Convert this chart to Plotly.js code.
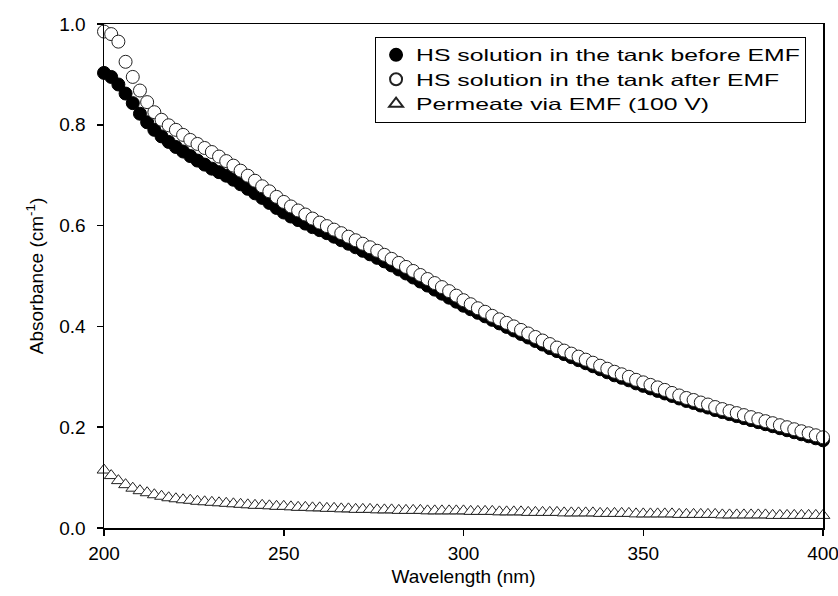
<!DOCTYPE html>
<html>
<head>
<meta charset="utf-8">
<script src="https://cdn.plot.ly/plotly-3.0.1.min.js"></script>
<style>html,body{margin:0;padding:0;background:#fff;}#chart{width:838px;height:596px;}</style>
</head>
<body>
<div id="chart"></div>
<script>
const wavelength = [200,202,204,206,208,210,212,214,216,218,220,222,224,226,228,230,232,234,236,238,240,242,244,246,248,250,252,254,256,258,260,262,264,266,268,270,272,274,276,278,280,282,284,286,288,290,292,294,296,298,300,302,304,306,308,310,312,314,316,318,320,322,324,326,328,330,332,334,336,338,340,342,344,346,348,350,352,354,356,358,360,362,364,366,368,370,372,374,376,378,380,382,384,386,388,390,392,394,396,398,400];

const beforeEMF = [0.903,0.895,0.880,0.862,0.843,0.822,0.805,0.790,0.777,0.766,0.756,0.747,0.738,0.729,0.721,0.713,0.706,0.699,0.691,0.682,0.673,0.664,0.655,0.645,0.635,0.626,0.618,0.611,0.604,0.597,0.591,0.585,0.578,0.571,0.564,0.557,0.550,0.543,0.536,0.529,0.521,0.513,0.505,0.497,0.489,0.481,0.473,0.465,0.457,0.449,0.441,0.434,0.427,0.420,0.413,0.406,0.399,0.392,0.385,0.378,0.371,0.364,0.357,0.351,0.345,0.339,0.333,0.327,0.321,0.315,0.309,0.303,0.298,0.293,0.287,0.282,0.277,0.272,0.267,0.262,0.257,0.252,0.248,0.243,0.239,0.234,0.230,0.226,0.222,0.218,0.214,0.210,0.206,0.202,0.198,0.194,0.190,0.186,0.182,0.178,0.174];

const afterEMF = [0.985,0.980,0.965,0.925,0.895,0.868,0.845,0.825,0.810,0.799,0.790,0.780,0.770,0.762,0.754,0.746,0.737,0.728,0.719,0.709,0.699,0.689,0.678,0.668,0.657,0.647,0.638,0.630,0.622,0.614,0.606,0.599,0.592,0.585,0.578,0.571,0.564,0.557,0.550,0.542,0.534,0.526,0.518,0.510,0.502,0.494,0.486,0.478,0.470,0.461,0.452,0.444,0.436,0.429,0.421,0.414,0.407,0.400,0.393,0.386,0.379,0.372,0.365,0.358,0.352,0.346,0.340,0.334,0.328,0.322,0.316,0.310,0.305,0.300,0.294,0.289,0.284,0.279,0.274,0.268,0.263,0.258,0.254,0.249,0.245,0.240,0.236,0.232,0.228,0.224,0.220,0.216,0.212,0.208,0.204,0.200,0.196,0.192,0.188,0.184,0.180];

const permeate = [0.115,0.104,0.094,0.086,0.079,0.074,0.070,0.066,0.063,0.060,0.058,0.056,0.055,0.053,0.052,0.051,0.050,0.049,0.048,0.047,0.046,0.045,0.045,0.044,0.043,0.043,0.042,0.041,0.041,0.040,0.040,0.039,0.039,0.038,0.038,0.037,0.037,0.037,0.036,0.036,0.036,0.035,0.035,0.035,0.035,0.034,0.034,0.034,0.034,0.034,0.034,0.033,0.033,0.033,0.033,0.032,0.032,0.032,0.032,0.031,0.031,0.031,0.031,0.031,0.030,0.030,0.030,0.030,0.030,0.029,0.029,0.029,0.029,0.029,0.028,0.028,0.028,0.028,0.028,0.028,0.027,0.027,0.027,0.027,0.027,0.027,0.026,0.026,0.026,0.026,0.026,0.026,0.026,0.025,0.025,0.025,0.025,0.025,0.025,0.025,0.025];

const seriesNames = ["HS solution in the tank before EMF","HS solution in the tank after EMF","Permeate via EMF (100 V)"];
const xTicks = [200,250,300,350,400];
const yTicks = [0.0,0.2,0.4,0.6,0.8,1.0];

const font = "Liberation Sans, Arial, Helvetica, sans-serif";

const traces = [
  {x: wavelength, y: beforeEMF, name: seriesNames[0], type: "scatter", mode: "markers", cliponaxis: false,
   marker: {symbol: "circle", size: 13, color: "#000", line: {color: "#000", width: 1}}},
  {x: wavelength, y: afterEMF, name: seriesNames[1], type: "scatter", mode: "markers", cliponaxis: false,
   marker: {symbol: "circle", size: 13, color: "#fff", line: {color: "#222", width: 1}}},
  {x: wavelength, y: permeate, name: seriesNames[2], type: "scatter", mode: "markers", cliponaxis: false,
   marker: {symbol: "triangle-up", size: 12, color: "#fff", line: {color: "#222", width: 1}}}
];

const layout = {
  width: 838, height: 596,
  margin: {l: 104, r: 15, t: 24, b: 68},
  paper_bgcolor: "#fff", plot_bgcolor: "#fff",
  font: {family: font, size: 19, color: "#000"},
  showlegend: true,
  legend: {x: 0.377, y: 0.975, xanchor: "left", yanchor: "top", bgcolor: "#fff",
           bordercolor: "#000", borderwidth: 1, font: {family: font, size: 16.5, color: "#000"},
           itemsizing: "constant"},
  xaxis: {range: [200, 400], tickvals: xTicks, ticktext: xTicks.map(String),
          ticks: "outside", ticklen: 6, tickwidth: 1.5, tickcolor: "#000",
          showline: true, linecolor: "#000", linewidth: 1.5, mirror: true,
          showgrid: false, zeroline: false, ticklabelstandoff: 2, ticklabeloverflow: "allow",
          tickfont: {family: font, size: 19, color: "#000"},
          title: {text: "Wavelength (nm)", font: {family: font, size: 19, color: "#000"}, standoff: 6}},
  yaxis: {range: [0, 1.0], tickvals: yTicks, ticktext: yTicks.map(v => v.toFixed(1)),
          ticks: "outside", ticklen: 6, tickwidth: 1.5, tickcolor: "#000",
          showline: true, linecolor: "#000", linewidth: 1.5, mirror: true,
          showgrid: false, zeroline: false, ticklabelstandoff: 7,
          tickfont: {family: font, size: 19, color: "#000"},
          title: {text: "Absorbance (cm<sup>-1</sup>)", font: {family: font, size: 19, color: "#000"}, standoff: 10}}
};

Plotly.newPlot("chart", traces, layout, {displayModeBar: false, staticPlot: true}).then(gd => {
  // widen legend glyphs horizontally, as in the reference's wide lettering
  const k = 1.5;
  let maxW = 0;
  gd.querySelectorAll(".legend .legendtext").forEach(t => {
    const w = t.getComputedTextLength();
    maxW = Math.max(maxW, w);
    t.setAttribute("textLength", (w * k).toFixed(1));
    t.setAttribute("lengthAdjust", "spacingAndGlyphs");
  });
  const extra = maxW * (k - 1);
  gd.querySelectorAll(".legend rect.bg").forEach(r => {
    r.setAttribute("width", parseFloat(r.getAttribute("width")) + extra);
  });
  document.querySelectorAll("clipPath[id^='legend'] rect").forEach(r => {
    r.setAttribute("width", parseFloat(r.getAttribute("width")) + extra);
  });
});
</script>
</body>
</html>
